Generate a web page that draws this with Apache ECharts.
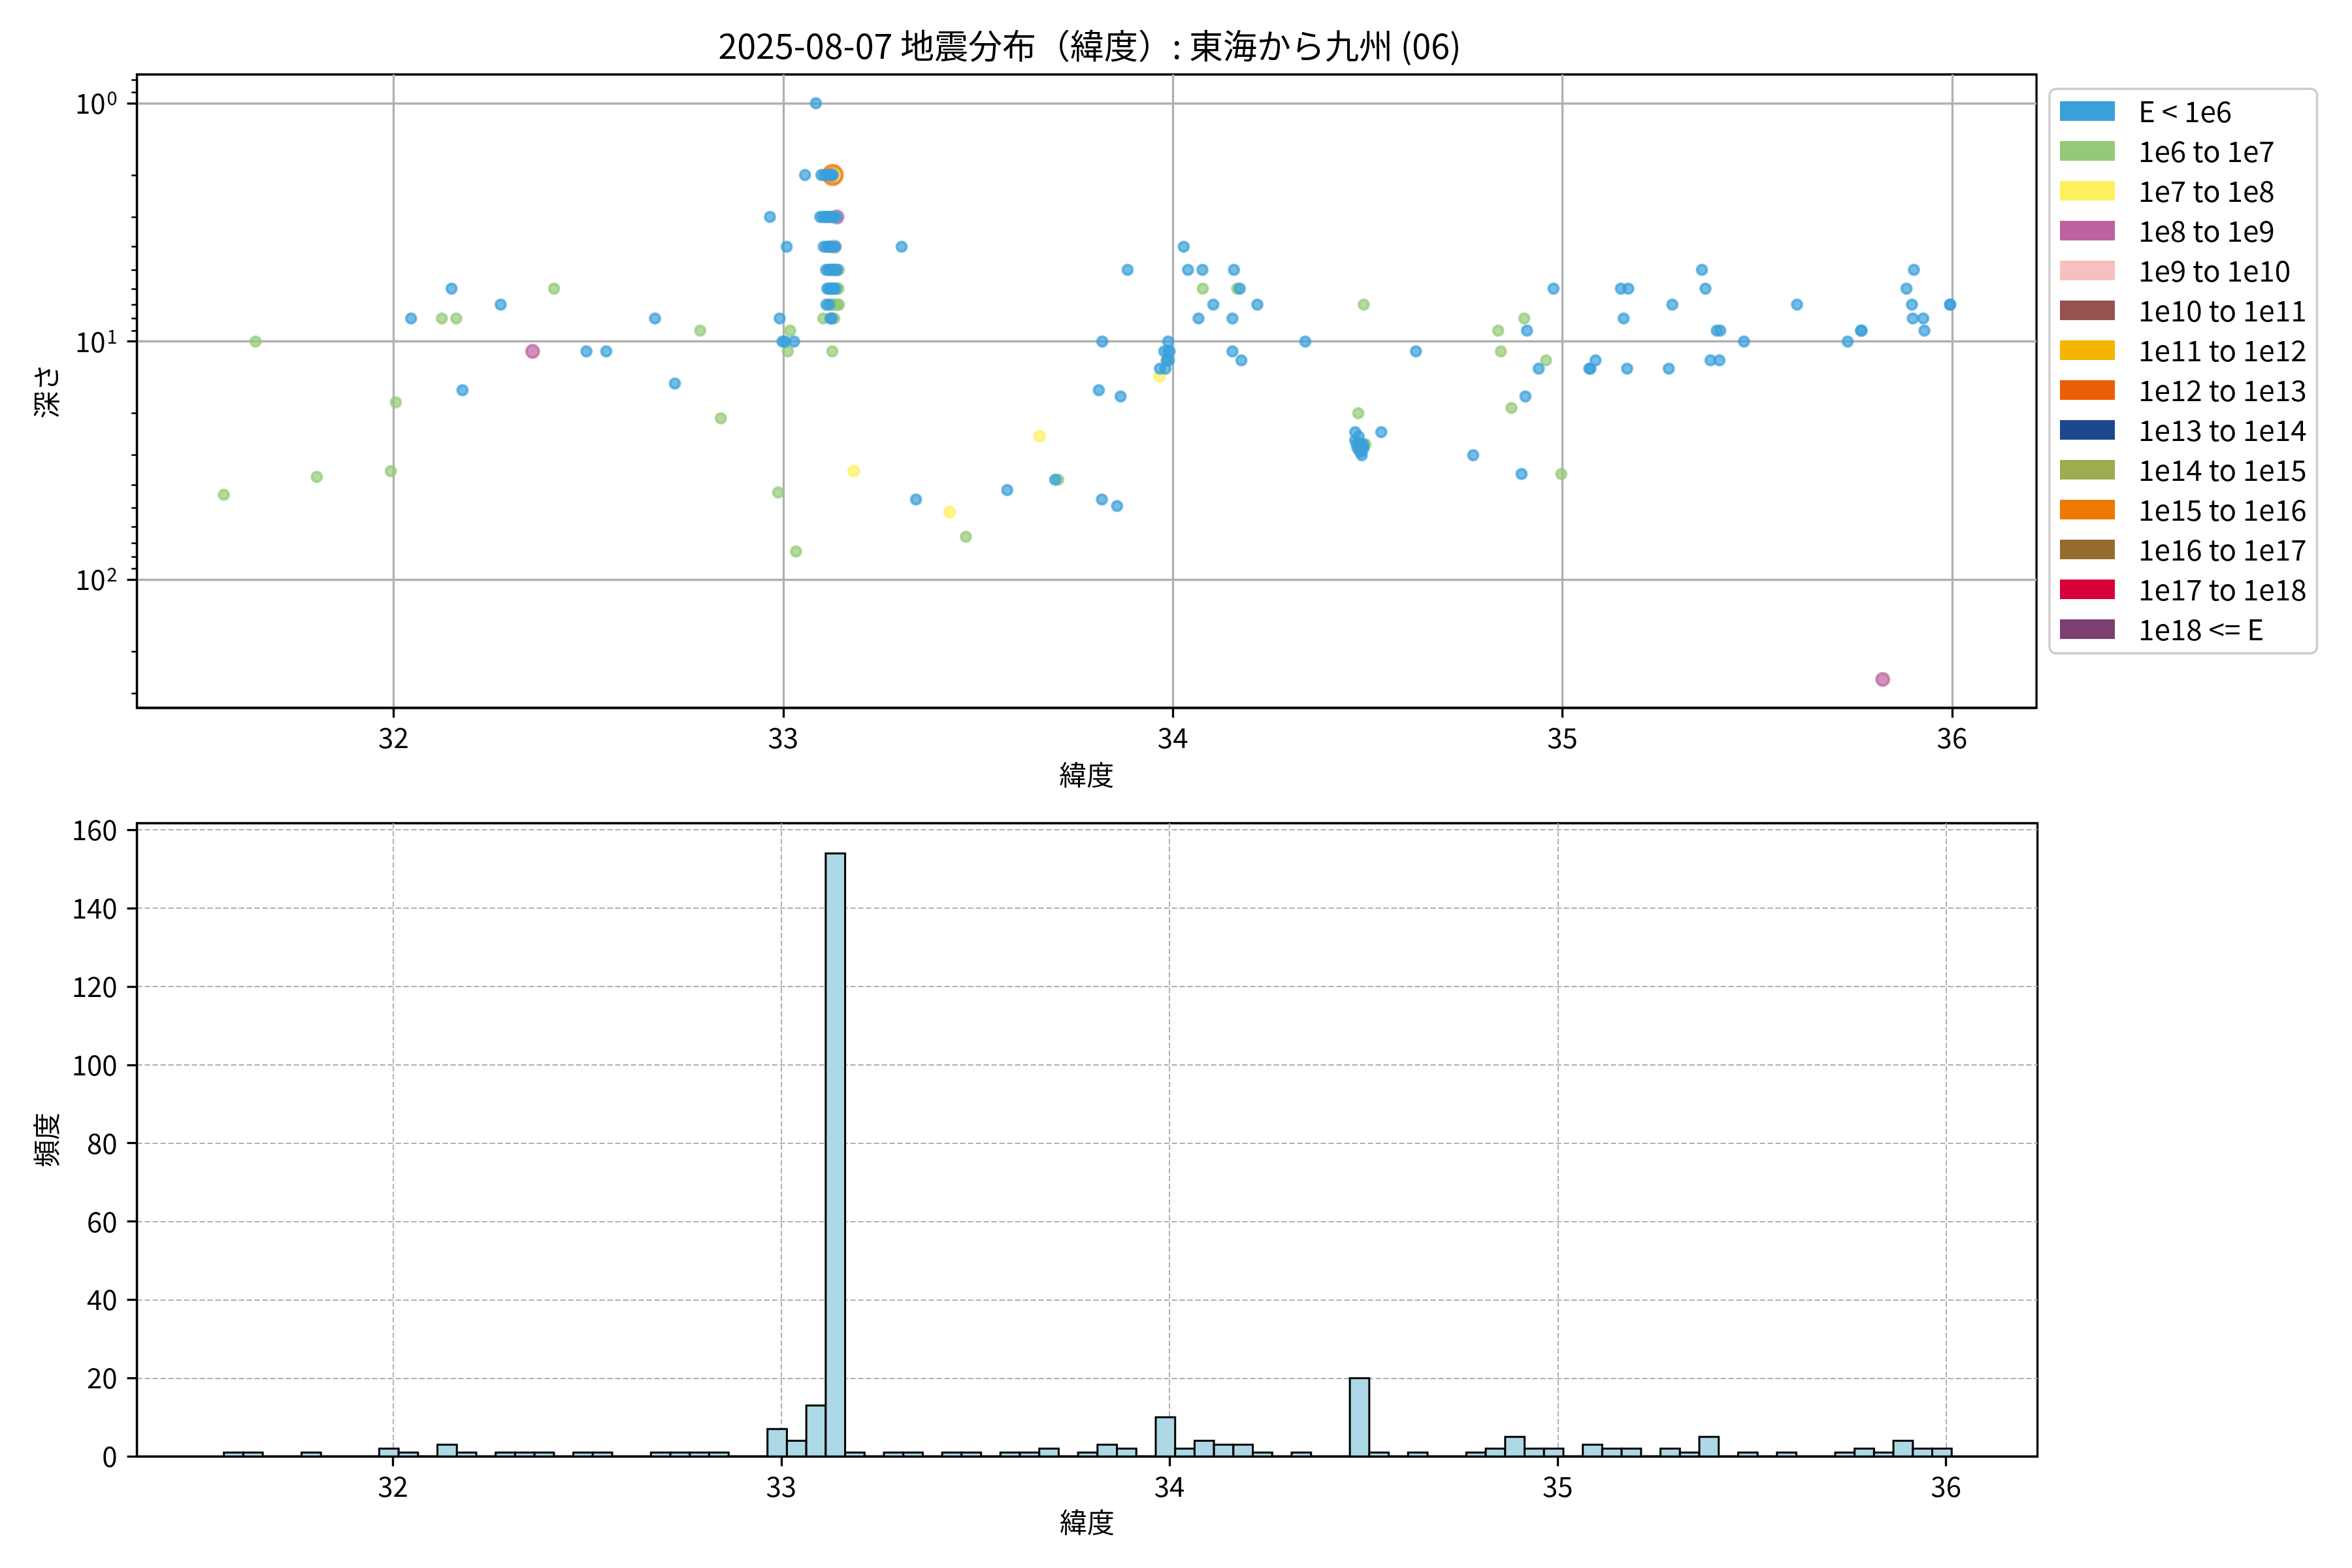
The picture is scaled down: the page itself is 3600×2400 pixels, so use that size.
<!DOCTYPE html>
<html>
<head>
<meta charset="utf-8">
<script src="https://cdn.jsdelivr.net/npm/echarts@6/dist/echarts.min.js"></script>
<style>
html,body{margin:0;padding:0;background:#fff;}
#chart{width:3600px;height:2400px;}
</style>
</head>
<body>
<div id="chart"></div>
<script>
const FONT = '"Noto Sans CJK JP", "Noto Sans", sans-serif';

const titleText = '2025-08-07 地震分布（緯度）: 東海から九州 (06)';

const classLabels = ['E < 1e6', '1e6 to 1e7', '1e7 to 1e8', '1e8 to 1e9', '1e9 to 1e10', '1e10 to 1e11',
  '1e11 to 1e12', '1e12 to 1e13', '1e13 to 1e14', '1e14 to 1e15', '1e15 to 1e16', '1e16 to 1e17',
  '1e17 to 1e18', '1e18 <= E'];
const classColors = ['#3AA0DA', '#94CA77', '#FEF15F', '#BC62A1', '#F5C0BD', '#955350',
  '#F5B400', '#E95F04', '#1D4890', '#9DAC4F', '#EE7800', '#946C2D', '#D70039', '#7B4070'];
const classSizes = [15, 15, 16, 19, 19, 21, 22, 24, 25, 27, 30, 32, 34, 36];

// [latitude, depth km]
const ptsBelow1e6 = [
  [32.045,8],[32.149,6],[32.177,16],[32.275,7],[32.495,11],[32.546,11],[32.671,8],[32.722,15],
  [32.966,3],[32.991,8],[32.998,10],[33.005,10],[33.009,4],[33.028,10],[33.056,2],[33.084,1],
  [33.098,2],[33.106,2],[33.116,2],[33.120,2],[33.124,2],[33.128,2],
  [33.095,3],[33.102,3],[33.108,3],[33.110,3],[33.116,3],[33.120,3],[33.124,3],[33.128,3],[33.132,3],[33.136,3],
  [33.104,4],[33.112,4],[33.116,4],[33.120,4],[33.126,4],[33.132,4],[33.134,4],
  [33.110,5],[33.116,5],[33.120,5],[33.124,5],[33.128,5],[33.132,5],[33.136,5],[33.138,5],
  [33.113,6],[33.118,6],[33.122,6],[33.126,6],[33.130,6],[33.134,6],
  [33.111,7],[33.118,7],
  [33.121,8],[33.125,8],
  [33.304,4],[33.341,46],[33.575,42],[33.698,38],[33.810,16],[33.818,46],[33.819,10],[33.857,49],[33.866,17],[33.884,5],
  [33.967,13],[33.981,13],[33.978,11],[33.988,11],[33.988,10],[33.990,12],[33.985,12],[33.992,11],
  [34.028,4],[34.039,5],[34.066,8],[34.076,5],[34.104,7],[34.153,8],[34.153,11],[34.157,5],[34.172,6],[34.176,12],[34.217,7],[34.340,10],
  [34.468,24],[34.468,26],[34.477,25],[34.472,27],[34.476,27],[34.480,27],[34.484,27],[34.488,27],
  [34.474,28],[34.478,28],[34.482,28],[34.486,28],[34.490,28],[34.480,29],[34.484,29],[34.485,30],
  [34.535,24],[34.624,11],[34.771,30],[34.895,36],[34.905,17],[34.909,9],[34.939,13],[34.977,6],
  [35.069,13],[35.072,13],[35.085,12],[35.150,6],[35.157,8],[35.166,13],[35.169,6],
  [35.273,13],[35.282,7],[35.358,5],[35.367,6],[35.380,12],[35.396,9],[35.403,12],[35.405,9],[35.466,10],
  [35.602,7],[35.732,10],[35.766,9],[35.768,9],[35.883,6],[35.897,7],[35.899,8],[35.902,5],[35.926,8],[35.929,9],[35.995,7],[35.995,7]
];
const pts1e6to1e7 = [
  [31.5645,44],[31.646,10],[31.803,37],[31.993,35],[32.006,18],[32.124,8],[32.161,8],[32.412,6],[32.787,9],[32.840,21],
  [32.987,43],[33.012,11],[33.018,9],[33.033,76],[33.103,8],
  [33.117,4],[33.122,4],[33.130,3],[33.143,5],[33.138,6],[33.142,6],
  [33.125,7],[33.130,7],[33.135,7],[33.140,7],[33.143,7],[33.131,8],[33.126,11],
  [33.469,66],[33.706,38],[33.984,12],[34.077,6],[34.165,6],
  [34.476,20],[34.490,7],[34.494,27],[34.478,28],
  [34.835,9],[34.842,11],[34.869,19],[34.902,8],[34.958,12],[34.997,36]
];
const pts1e7to1e8 = [[33.131,2],[33.133,3],[33.130,5],[33.181,35],[33.427,52],[33.658,25],[33.966,14]];
const pts1e8to1e9 = [[32.357,11],[33.138,3],[35.822,262]];
const pts1e9to1e10 = [[33.132,4]];
const pts1e15to1e16 = [[33.127,2]];
const classPoints = [ptsBelow1e6, pts1e6to1e7, pts1e7to1e8, pts1e8to1e9, pts1e9to1e10, [], [], [], [], [], pts1e15to1e16, [], [], []];

// histogram (bin width 0.05 deg)
const histBinStart = 31.5645;
const histBinWidth = 0.05;
const histCounts = [
  1,1,0,0,1,0,0,0,2,1, 0,3,1,0,1,1,1,0,1,1,
  0,0,1,1,1,1,0,0,7,4, 13,154,1,0,1,1,0,1,1,0,
  1,1,2,0,1,3,2,0,10,2, 4,3,3,1,0,1,0,0,20,1,
  0,1,0,0,1,2,5,2,2,0, 3,2,2,0,2,1,5,0,1,0,
  1,0,0,1,2,1,4,2,2
];

const latTicks = [32, 33, 34, 35, 36];
const depthTicks = [1, 10, 100];
const countTicks = [0, 20, 40, 60, 80, 100, 120, 140, 160];

function rgba(hex, a) {
  const n = parseInt(hex.slice(1), 16);
  return 'rgba(' + ((n >> 16) & 255) + ',' + ((n >> 8) & 255) + ',' + (n & 255) + ',' + a + ')';
}

const axisText = {fontSize: 42, color: '#000', fontFamily: FONT};
const spineStyle = {color: '#000', width: 3.3};

const scatterSeries = classPoints.map((pts, i) => ({
  type: 'scatter',
  name: classLabels[i],
  xAxisIndex: 0,
  yAxisIndex: 0,
  data: pts,
  symbol: 'circle',
  symbolSize: classSizes[i],
  z: 30 - i,
  itemStyle: {color: rgba(classColors[i], 0.7), borderColor: rgba(classColors[i], 0.7), borderWidth: 4, opacity: 1},
  emphasis: {disabled: true}
}));

const histData = histCounts.map((c, k) => [histBinStart + k * histBinWidth, histBinStart + (k + 1) * histBinWidth, c]);

const option = {
  animation: false,
  backgroundColor: '#fff',
  title: {
    text: titleText, left: 1663, top: 39, textAlign: 'center',
    textStyle: {fontSize: 52, fontWeight: 'normal', color: '#000', fontFamily: FONT}
  },
  legend: {
    orient: 'vertical', left: 3137, top: 136,
    padding: [12, 16, 15, 16],
    itemWidth: 84, itemHeight: 30, itemGap: 17, icon: 'rect',
    borderColor: '#cccccc', borderWidth: 3.3, borderRadius: 10,
    backgroundColor: 'rgba(255,255,255,0.8)',
    selectedMode: false,
    textStyle: {fontSize: 44, color: '#000', fontFamily: FONT, lineHeight: 44, padding: [0, 0, 0, 31]},
    data: classLabels.map((n, i) => ({name: n, itemStyle: {color: classColors[i], opacity: 1, borderWidth: 0}}))
  },
  grid: [
    {left: 209.6, top: 114, width: 2907.5, height: 969.5, show: true, borderColor: '#000', borderWidth: 3.3, backgroundColor: 'transparent'},
    {left: 209.6, top: 1260, width: 2909, height: 969.3, show: true, borderColor: '#000', borderWidth: 3.3, backgroundColor: 'transparent'}
  ],
  xAxis: [
    {
      gridIndex: 0, type: 'value', min: 31.3414, max: 36.2166,
      name: '緯度', nameLocation: 'middle', nameGap: 82, nameTextStyle: axisText,
      axisLine: {show: true, onZero: false, lineStyle: spineStyle},
      axisTick: {show: true, length: 15, lineStyle: spineStyle, customValues: latTicks},
      axisLabel: Object.assign({customValues: latTicks, margin: 25}, axisText),
      splitLine: {show: true, lineStyle: {color: '#b0b0b0', width: 3.3}}
    },
    {
      gridIndex: 1, type: 'value', min: 31.3405, max: 36.2355,
      name: '緯度', nameLocation: 'middle', nameGap: 80, nameTextStyle: axisText,
      axisLine: {show: true, onZero: false, lineStyle: spineStyle},
      axisTick: {show: true, length: 15, lineStyle: spineStyle, customValues: latTicks},
      axisLabel: Object.assign({customValues: latTicks, margin: 25}, axisText),
      splitLine: {show: true, lineStyle: {color: '#b0b0b0', width: 2, type: [8, 4]}}
    }
  ],
  yAxis: [
    {
      gridIndex: 0, type: 'log', logBase: 10, inverse: true, min: 0.757, max: 345,
      name: '深さ', nameLocation: 'middle', nameGap: 118, nameRotate: 90, nameTextStyle: axisText,
      axisLine: {show: true, onZero: false, lineStyle: spineStyle},
      axisTick: {show: true, length: 15, lineStyle: spineStyle, customValues: depthTicks},
      minorTick: {show: true, splitNumber: 9, length: 8.3, lineStyle: {color: '#000', width: 2.5}},
      axisLabel: {
        customValues: depthTicks, margin: 30,
        formatter: v => '{b|10}{s|' + Math.round(Math.log10(v)) + '}',
        rich: {
          b: {fontSize: 42, color: '#000', fontFamily: FONT},
          s: {fontSize: 29, color: '#000', fontFamily: FONT, verticalAlign: 'top', padding: [0, 0, 16, 2]}
        }
      },
      splitLine: {show: true, lineStyle: {color: '#b0b0b0', width: 3.3}}
    },
    {
      gridIndex: 1, type: 'value', min: 0, max: 161.7,
      name: '頻度', nameLocation: 'middle', nameGap: 118, nameRotate: 90, nameTextStyle: axisText,
      axisLine: {show: true, onZero: false, lineStyle: spineStyle},
      axisTick: {show: true, length: 15, lineStyle: spineStyle, customValues: countTicks},
      axisLabel: Object.assign({customValues: countTicks, margin: 30}, axisText),
      splitLine: {show: true, lineStyle: {color: '#b0b0b0', width: 2, type: [8, 4]}}
    }
  ],
  series: scatterSeries.concat([{
    type: 'custom',
    name: 'hist',
    xAxisIndex: 1,
    yAxisIndex: 1,
    data: histData,
    encode: {x: [0, 1], y: 2},
    z: 5,
    renderItem: function (params, api) {
      const p0 = api.coord([api.value(0), api.value(2)]);
      const p1 = api.coord([api.value(1), 0]);
      return {
        type: 'rect',
        shape: {x: p0[0], y: p0[1], width: p1[0] - p0[0], height: p1[1] - p0[1]},
        style: {fill: '#ADD8E6', stroke: '#000', lineWidth: 3}
      };
    }
  }])
};

const chart = echarts.init(document.getElementById('chart'), null, {renderer: 'canvas'});
chart.setOption(option);
</script>
</body>
</html>
